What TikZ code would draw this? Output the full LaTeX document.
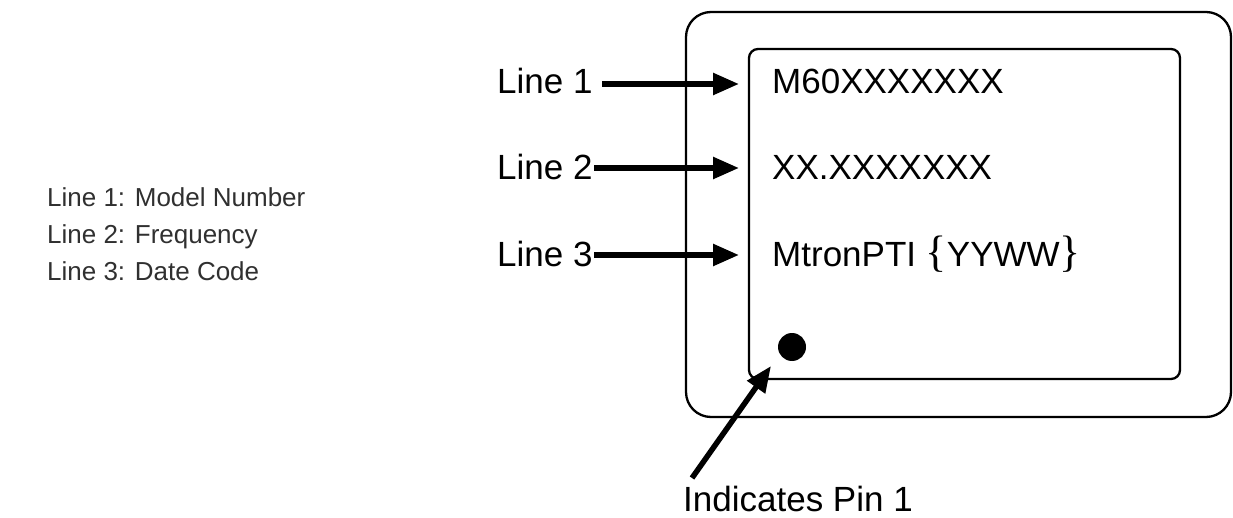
\documentclass[tikz,border=0pt]{standalone}
\usepackage{fontspec}
\setmainfont{Liberation Sans}
\newfontfamily\bracefont{Liberation Serif}
\usetikzlibrary{arrows.meta}
\definecolor{legendgray}{HTML}{303030}
\begin{document}
\begin{tikzpicture}[x=1pt,y=-1pt,
  box/.style={draw=black,line width=2.3pt},
  bigtxt/.style={font=\fontsize{35}{40}\selectfont,inner sep=0pt},
  smalltxt/.style={font=\fontsize{26}{37}\selectfont,inner sep=0pt,align=left,text=legendgray},
  arr/.style={line width=5.5pt,-{Triangle[length=26pt,width=21pt]}}]
\useasboundingbox (0,0) rectangle (1233,518);
\draw[box,rounded corners=25pt] (686,12) rectangle (1231,417);
\draw[box,rounded corners=9pt] (749,49) rectangle (1180,379);
\node[bigtxt,anchor=base west] (l1) at (497,94) {Line 1};
\node[bigtxt,anchor=base west] (l2) at (497,180) {Line 2};
\node[bigtxt,anchor=base west] (l3) at (497,267) {Line 3};
\node[bigtxt,anchor=base west] (t1) at (772,94) {M60XXXXXXX};
\node[bigtxt,anchor=base west] (t2) at (772,180) {XX.XXXXXXX};
\node[bigtxt,anchor=base west] (t3) at (772,267) {MtronPTI {\bracefont\fontsize{44}{44}\selectfont\{}YYWW{\bracefont\fontsize{44}{44}\selectfont\}}};
\coordinate (s1) at (602,84);
\coordinate (s2) at (594,168);
\coordinate (s3) at (594,255);
\coordinate (h1) at (739,84);
\coordinate (h2) at (739,168);
\coordinate (h3) at (739,255);
\draw[arr] (s1) -- (h1);
\draw[arr] (s2) -- (h2);
\draw[arr] (s3) -- (h3);
\node[circle,fill=black,minimum size=28pt,inner sep=0pt] (dot) at (792,347) {};
\node[bigtxt,anchor=base west] (pin) at (683,511) {Indicates Pin 1};
\coordinate (ptail) at (692,478);
\coordinate (ptip) at (771,366);
\draw[arr] (ptail) -- (ptip);
\node[smalltxt,anchor=base west] (legend1) at (47,207) {Line 1: Model Number};
\node[smalltxt,anchor=base west] (legend2) at (47,244) {Line 2: Frequency};
\node[smalltxt,anchor=base west] (legend3) at (47,281) {Line 3: Date Code};
\end{tikzpicture}
\end{document}
